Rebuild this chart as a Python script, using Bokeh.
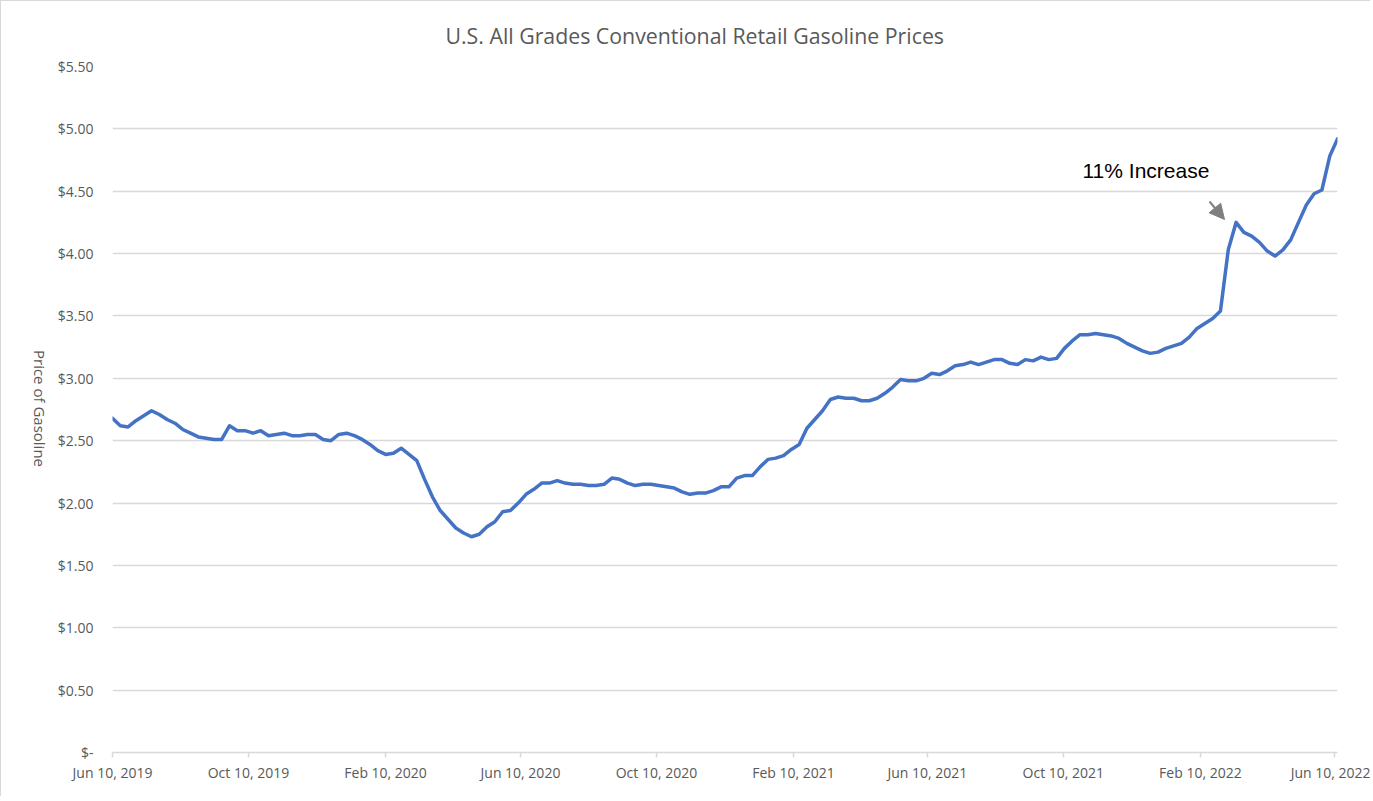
import pandas as pd
from bokeh.plotting import figure
from bokeh.models import (ColumnDataSource, Range1d, FixedTicker, DatetimeTickFormatter,
                          NumeralTickFormatter, Label, Arrow, NormalHead)
from bokeh.embed import file_html
from bokeh.resources import INLINE

# ---------------- data ----------------
start_date = "2019-06-10"   # weekly (Monday) observations
prices = [
    2.68, 2.62, 2.61, 2.66, 2.70, 2.74, 2.71, 2.67, 2.64, 2.59,
    2.56, 2.53, 2.52, 2.51, 2.51, 2.62, 2.58, 2.58, 2.56, 2.58,
    2.54, 2.55, 2.56, 2.54, 2.54, 2.55, 2.55, 2.51, 2.50, 2.55,
    2.56, 2.54, 2.51, 2.47, 2.42, 2.39, 2.40, 2.44, 2.39, 2.34,
    2.19, 2.05, 1.94, 1.87, 1.80, 1.76, 1.73, 1.75, 1.81, 1.85,
    1.93, 1.94, 2.00, 2.07, 2.11, 2.16, 2.16, 2.18, 2.16, 2.15,
    2.15, 2.14, 2.14, 2.15, 2.20, 2.19, 2.16, 2.14, 2.15, 2.15,
    2.14, 2.13, 2.12, 2.09, 2.07, 2.08, 2.08, 2.10, 2.13, 2.13,
    2.20, 2.22, 2.22, 2.29, 2.35, 2.36, 2.38, 2.43, 2.47, 2.60,
    2.67, 2.74, 2.83, 2.85, 2.84, 2.84, 2.82, 2.82, 2.84, 2.88,
    2.93, 2.99, 2.98, 2.98, 3.00, 3.04, 3.03, 3.06, 3.10, 3.11,
    3.13, 3.11, 3.13, 3.15, 3.15, 3.12, 3.11, 3.15, 3.14, 3.17,
    3.15, 3.16, 3.24, 3.30, 3.35, 3.35, 3.36, 3.35, 3.34, 3.32,
    3.28, 3.25, 3.22, 3.20, 3.21, 3.24, 3.26, 3.28, 3.33, 3.40,
    3.44, 3.48, 3.54, 4.03, 4.25, 4.17, 4.14, 4.09, 4.02, 3.98,
    4.03, 4.11, 4.25, 4.39, 4.48, 4.51, 4.78, 4.92,
]
dates = pd.date_range(start_date, periods=len(prices), freq="7D")

x_tick_dates = ["2019-06-10", "2019-10-10", "2020-02-10", "2020-06-10", "2020-10-10",
                "2021-02-10", "2021-06-10", "2021-10-10", "2022-02-10", "2022-06-10"]
y_ticks = [0, 0.5, 1, 1.5, 2, 2.5, 3, 3.5, 4, 4.5, 5, 5.5]

title_text = "U.S. All Grades Conventional Retail Gasoline Prices"
y_label_text = "Price of Gasoline"
note_text = "11% Increase"

# ---------------- figure ----------------
TEXT_GRAY = "#595959"
GRID_GRAY = "#d9d9d9"
FONT = "Open Sans"

x_start = pd.Timestamp("2019-06-10")
x_end = pd.Timestamp("2022-06-13")

p = figure(width=1370, height=796, x_axis_type="datetime",
           output_backend="svg", toolbar_location=None,
           x_range=Range1d(x_start, x_end), y_range=Range1d(0, 5.5),
           min_border_left=111, min_border_right=34,
           min_border_top=64, min_border_bottom=45)
p.styles = {"border-left": "1px solid #d9d9d9", "border-top": "1px solid #d9d9d9"}

p.title.text = title_text
p.title.align = "left"
p.title.offset = 333
p.title.standoff = 34
p.title.text_font = FONT
p.title.text_font_size = "21.3px"
p.title.text_font_style = "normal"
p.title.text_color = TEXT_GRAY

p.outline_line_color = None
p.background_fill_color = "white"
p.border_fill_color = "white"

src = ColumnDataSource(dict(date=dates, price=prices))
p.line("date", "price", source=src, line_color="#4472C4", line_width=3.5,
       line_join="round", line_cap="round")

# x axis
tick_ms = [pd.Timestamp(d).value // 10**6 for d in x_tick_dates]
xa = p.xaxis[0]
xa.ticker = FixedTicker(ticks=tick_ms, minor_ticks=[])
fmt = "%b %d, %Y"
xa.formatter = DatetimeTickFormatter(milliseconds=fmt, seconds=fmt, minsec=fmt, minutes=fmt,
                                     hourmin=fmt, hours=fmt, days=fmt, months=fmt, years=fmt)
xa.axis_line_color = GRID_GRAY
xa.axis_line_width = 1.5
xa.major_tick_line_color = GRID_GRAY
xa.major_tick_line_width = 1.5
xa.major_tick_out = 5
xa.major_tick_in = 0
xa.minor_tick_line_color = None
xa.major_label_text_color = TEXT_GRAY
xa.major_label_text_font = FONT
xa.major_label_text_font_size = "14px"
xa.major_label_standoff = 5

# y axis
ya = p.yaxis[0]
ya.ticker = FixedTicker(ticks=y_ticks, minor_ticks=[])
ya.formatter = NumeralTickFormatter(format="$0.00")
ya.major_label_overrides = {0: "$-"}
ya.axis_line_color = None
ya.major_tick_line_color = None
ya.major_tick_out = 0
ya.major_tick_in = 0
ya.minor_tick_line_color = None
ya.major_label_standoff = 19
ya.major_label_text_color = TEXT_GRAY
ya.major_label_text_font = FONT
ya.major_label_text_font_size = "14px"

p.xgrid.grid_line_color = None
p.ygrid.ticker = FixedTicker(ticks=y_ticks)
p.ygrid.grid_line_color = GRID_GRAY
p.ygrid.grid_line_width = 1.5

# y axis title (reads top-to-bottom), placed in the left side panel
p.add_layout(Label(x=5, y=344, x_units="screen", y_units="screen", text=y_label_text,
                   angle=-90, angle_units="deg", text_align="center", text_baseline="middle",
                   text_font=FONT, text_font_size="15px", text_color=TEXT_GRAY), "left")

# annotation
p.add_layout(Label(x=970, y=582, x_units="screen", y_units="screen", text=note_text,
                   text_align="left", text_baseline="middle",
                   text_font="Liberation Sans", text_font_size="21px",
                   text_color="black"))
p.add_layout(Arrow(end=NormalHead(size=15, fill_color="#7f7f7f", line_color="#7f7f7f"),
                   x_start=1097, y_start=551, x_end=1112, y_end=533,
                   start_units="screen", end_units="screen",
                   line_color="#7f7f7f", line_width=2))

open("out.html", "w").write(file_html(p, INLINE))
